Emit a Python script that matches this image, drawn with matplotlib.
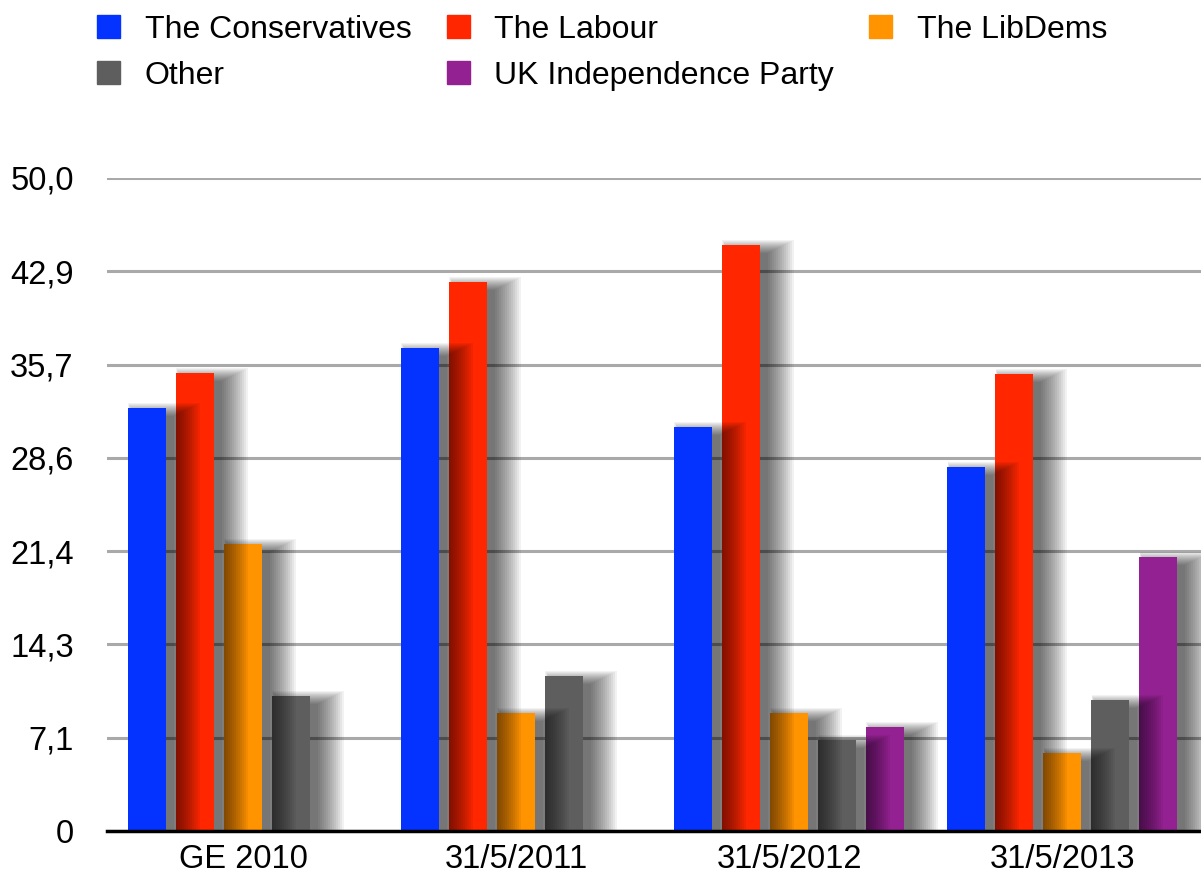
import numpy as np
import matplotlib
matplotlib.use("Agg")
import matplotlib.pyplot as plt
import matplotlib.patches as mpatches

plt.rcParams['font.family'] = ['Liberation Sans', 'DejaVu Sans']

# ---- Data
dates = ["GE 2010", "31/5/2011", "31/5/2012", "31/5/2013"]
parties = ["The Conservatives", "The Labour", "The LibDems", "Other", "UK Independence Party"]
conservatives = [32.4, 37.0, 30.9, 27.9]
labour = [35.1, 42.0, 44.9, 35.0]
libdems = [22.0, 9.0, 9.0, 6.0]
other = [10.3, 11.9, 7.0, 10.0]
ukip = [np.nan, np.nan, 8.0, 21.0]
colors = ['#0433ff', '#ff2600', '#ff9300', '#5e5e5e', '#942192']

series = [conservatives, labour, libdems, other, ukip]
yticks = [0, 50 / 7, 100 / 7, 150 / 7, 200 / 7, 250 / 7, 300 / 7, 50]
ytick_labels = ["0", "7,1", "14,3", "21,4", "28,6", "35,7", "42,9", "50,0"]

fig = plt.figure(figsize=(12.01, 8.75), dpi=100)
ax = fig.add_axes([107 / 1201, 1 - 831 / 875, 1 - 107 / 1201, (831 - 178) / 875])

group_gap = 5.69
width = 0.79
px = 1 / 48.0          # one pixel in x data units
py = 50 / 653.0        # one pixel in y data units
group_x = np.arange(len(dates)) * group_gap

for i, vals in enumerate(series):
    vals = np.array(vals, dtype=float)
    ok = ~np.isnan(vals)
    x = group_x[ok] + i
    h = vals[ok]
    z = 40 - 3 * i
    # soft drop shadow: translucent layers growing mostly to the right
    for k in range(14):
        s = k * 2.0
        left = x - width / 2 + (8 - 0.3 * s) * px
        w = width + 1.3 * s * px
        ax.bar(left, h + (0.5 * s - 8) * py, bottom=0, width=w, align='edge',
               color='black', alpha=0.05, linewidth=0, zorder=z - 1)
    ax.bar(x, h, width=width, color=colors[i], linewidth=0, zorder=z,
           label=parties[i])

ax.set_ylim(0, 50)
ax.set_xlim(-0.833, 21.96)
ax.set_yticks(yticks)
ax.set_yticklabels(ytick_labels)
ax.set_xticks(group_x + 2)
ax.set_xticklabels(dates)
ax.tick_params(length=0, labelsize=23.5)
ax.tick_params(axis='y', pad=24)
ax.tick_params(axis='x', pad=9)
ax.yaxis.grid(True, color='#a9a9a9', linewidth=2.2, zorder=0)
ax.set_axisbelow(True)
for side in ['top', 'right', 'left']:
    ax.spines[side].set_visible(False)
ax.spines['bottom'].set_linewidth(2.5)
ax.spines['bottom'].set_zorder(60)

# legend, filled row-wise
handles = [mpatches.Patch(color=c, label=p) for c, p in zip(colors, parties)]
order = [0, 3, 1, 4, 2]
fig.legend([handles[o] for o in order], [parties[o] for o in order],
           loc='upper left', bbox_to_anchor=(68 / 1201, 1 + 14 / 875), ncol=3,
           frameon=False, fontsize=23, handlelength=0.72, handleheight=0.72,
           handletextpad=0.78, columnspacing=1.1, labelspacing=0.5)

plt.savefig('out.png', dpi=100)
